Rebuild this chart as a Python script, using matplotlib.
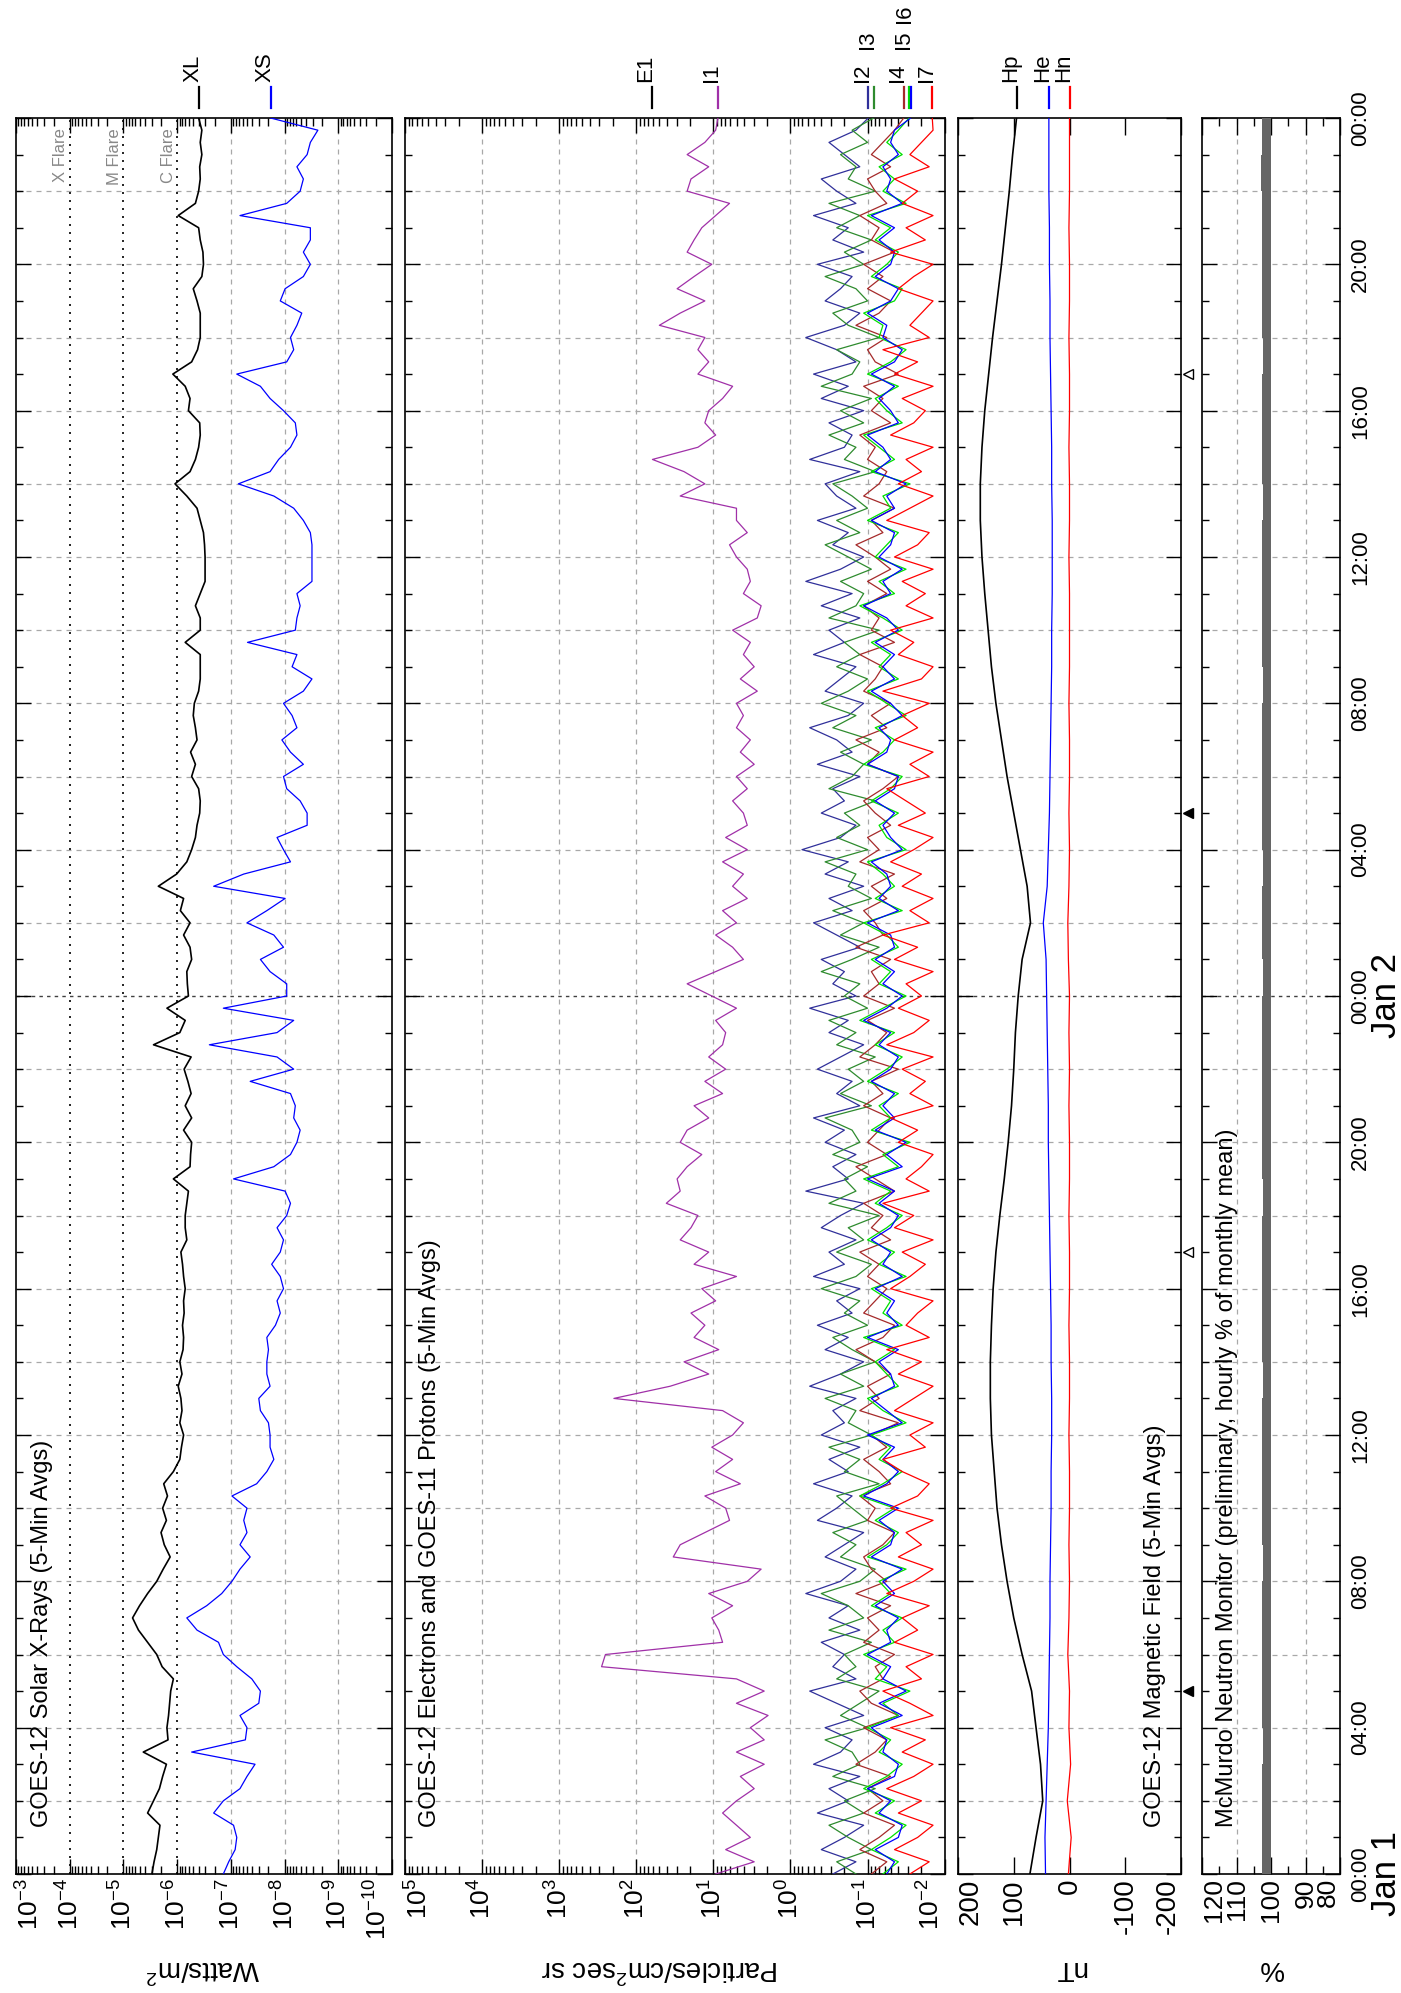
import numpy as np
import matplotlib
matplotlib.use("Agg")
import matplotlib.pyplot as plt
from matplotlib.lines import Line2D
from matplotlib.ticker import FixedLocator, LogLocator, NullFormatter
from matplotlib.transforms import blended_transform_factory, offset_copy

plt.rcParams['font.family'] = ['Liberation Sans', 'DejaVu Sans']
plt.rcParams['mathtext.fontset'] = 'custom'
plt.rcParams['mathtext.rm'] = 'Liberation Sans'
plt.rcParams['mathtext.it'] = 'Liberation Sans:italic'
plt.rcParams['mathtext.bf'] = 'Liberation Sans:bold'

# time grids, hours after 00:00 Jan 1
t_20min = np.arange(145) / 3.0
t_hour = np.arange(49)

# GOES-12 x-rays, log10(W/m^2)
xl_log = [-5.53, -5.57, -5.62, -5.65, -5.68, -5.45, -5.56, -5.67, -5.73, -5.80,
          -5.37, -5.83, -5.81, -5.84, -5.86, -5.88, -5.93, -5.72, -5.62, -5.45,
          -5.28, -5.17, -5.30, -5.45, -5.62, -5.74, -5.87, -5.76, -5.70, -5.80,
          -5.73, -5.82, -5.75, -5.93, -6.05, -6.08, -6.12, -6.05, -6.09, -6.07,
          -6.02, -6.09, -6.05, -6.11, -6.12, -6.10, -6.13, -6.12, -6.15, -6.12,
          -6.10, -6.07, -6.18, -6.15, -6.15, -6.18, -6.21, -5.93, -6.24, -6.25,
          -6.27, -6.12, -6.27, -6.15, -6.26, -6.20, -6.13, -6.26, -5.56, -6.05,
          -6.15, -5.81, -6.21, -6.19, -6.18, -6.27, -6.24, -6.12, -6.24, -6.06,
          -6.12, -5.65, -5.99, -6.18, -6.27, -6.34, -6.37, -6.42, -6.43, -6.40,
          -6.27, -6.34, -6.25, -6.37, -6.34, -6.30, -6.32, -6.40, -6.43, -6.43,
          -6.43, -6.15, -6.43, -6.43, -6.34, -6.43, -6.52, -6.52, -6.52, -6.51,
          -6.49, -6.43, -6.37, -6.18, -5.96, -6.24, -6.34, -6.40, -6.43, -6.42,
          -6.21, -6.24, -6.15, -5.92, -6.27, -6.38, -6.43, -6.43, -6.43, -6.37,
          -6.30, -6.46, -6.49, -6.48, -6.43, -6.40, -6.02, -6.34, -6.40, -6.43,
          -6.42, -6.46, -6.43, -6.46, -6.40]
xs_log = [-6.86, -6.96, -7.08, -7.11, -7.05, -6.68, -6.86, -7.17, -7.30, -7.45,
          -6.27, -7.27, -7.30, -7.17, -7.52, -7.55, -7.39, -7.11, -6.86, -6.77,
          -6.37, -6.18, -6.55, -6.83, -7.02, -7.17, -7.36, -7.17, -7.30, -7.24,
          -7.30, -7.02, -7.48, -7.67, -7.80, -7.73, -7.73, -7.70, -7.55, -7.52,
          -7.73, -7.67, -7.67, -7.70, -7.67, -7.83, -7.92, -7.86, -7.98, -7.92,
          -7.76, -7.92, -7.98, -7.86, -8.04, -8.11, -8.01, -7.05, -7.80, -8.11,
          -8.23, -8.29, -8.17, -8.20, -8.11, -7.36, -8.17, -7.86, -6.60, -7.86,
          -8.17, -6.86, -8.04, -8.04, -7.73, -7.55, -7.98, -7.80, -7.30, -7.67,
          -8.01, -6.68, -7.24, -8.11, -7.98, -7.86, -8.42, -8.42, -8.29, -8.04,
          -7.98, -8.35, -8.11, -7.95, -8.23, -8.14, -7.98, -8.35, -8.51, -8.14,
          -8.23, -7.31, -8.20, -8.23, -8.29, -8.23, -8.51, -8.51, -8.51, -8.51,
          -8.48, -8.35, -8.17, -7.80, -7.14, -7.73, -7.89, -8.11, -8.23, -8.20,
          -7.98, -7.73, -7.55, -7.11, -8.04, -8.17, -8.11, -8.23, -8.32, -7.92,
          -8.01, -8.35, -8.48, -8.35, -8.48, -8.48, -7.17, -8.04, -8.29, -8.35,
          -8.23, -8.42, -8.48, -8.62, -7.74]

# electrons / protons, log10(particles/cm2 sec sr); E1 has no data in this window
e1_log = []
i1_log = [0.97, 0.47, 0.84, 0.52, 0.70, 0.88, 0.70, 0.47, 0.65, 0.34,
          0.70, 0.34, 0.52, 0.29, 0.70, 0.34, 0.70, 2.45, 2.40, 0.88,
          0.93, 1.02, 0.75, 1.06, 0.56, 0.38, 1.52, 1.43, 1.11, 0.79,
          0.84, 1.11, 0.65, 0.97, 0.75, 1.02, 0.75, 0.61, 0.88, 2.29,
          1.56, 1.06, 1.38, 0.93, 1.25, 1.11, 1.29, 0.97, 1.15, 0.70,
          1.25, 1.06, 1.43, 1.29, 1.20, 1.61, 1.43, 1.47, 1.34, 1.15,
          1.43, 1.34, 1.06, 1.25, 0.88, 1.11, 0.84, 1.06, 0.88, 0.84,
          0.97, 0.70, 1.02, 1.34, 0.97, 0.61, 0.75, 0.97, 0.70, 0.88,
          0.56, 0.75, 0.61, 0.88, 0.56, 0.84, 0.56, 0.61, 0.75, 0.56,
          0.70, 0.47, 0.65, 0.52, 0.70, 0.61, 0.70, 0.43, 0.65, 0.47,
          0.61, 0.52, 0.75, 0.43, 0.38, 0.61, 0.52, 0.56, 0.70, 0.79,
          0.56, 0.70, 0.70, 1.43, 1.11, 1.38, 1.79, 1.20, 0.97, 1.11,
          1.06, 0.88, 0.75, 1.20, 1.06, 1.20, 1.11, 1.70, 1.43, 1.11,
          1.47, 1.25, 1.02, 1.34, 1.25, 1.15, 0.97, 0.79, 1.34, 1.29,
          1.06, 1.34, 1.11, 0.97, 0.94]
i2_log = [-0.55, -0.85, -0.40, -0.70, -0.95, -0.35, -0.75, -0.50, -0.90, -0.30,
          -0.65, -0.80, -0.45, -0.95, -0.60, -0.25, -0.85, -0.55, -0.70, -0.40,
          -0.90, -0.50, -0.75, -0.20, -0.65, -0.85, -0.45, -0.70, -0.95, -0.35,
          -0.60, -0.80, -0.30, -0.75, -0.50, -0.90, -0.40, -0.70, -0.55, -0.85,
          -0.25, -0.65, -0.95, -0.45, -0.75, -0.35, -0.80, -0.60, -0.90, -0.30,
          -0.70, -0.50, -0.85, -0.40, -0.65, -0.95, -0.20, -0.75, -0.55, -0.85,
          -0.45, -0.70, -0.30, -0.90, -0.60, -0.80, -0.35, -0.65, -0.95, -0.50,
          -0.75, -0.25, -0.85, -0.55, -0.70, -0.40, -0.90, -0.60, -0.30, -0.80,
          -0.50, -0.95, -0.45, -0.75, -0.15, -0.65, -0.85, -0.40, -0.70, -0.55,
          -0.90, -0.35, -0.80, -0.60, -0.25, -0.75, -0.95, -0.45, -0.65, -0.85,
          -0.30, -0.70, -0.50, -0.90, -0.40, -0.80, -0.20, -0.65, -0.95, -0.55,
          -0.75, -0.35, -0.85, -0.60, -0.45, -0.90, -0.25, -0.70, -0.80, -0.50,
          -0.95, -0.40, -0.75, -0.30, -0.85, -0.60, -0.20, -0.70, -0.90, -0.45,
          -0.65, -0.80, -0.35, -0.95, -0.55, -0.75, -0.30, -0.85, -0.60, -0.40,
          -0.90, -0.70, -0.50, -0.85, -1.01]
i3_log = [-0.85, -0.60, -1.05, -0.75, -0.50, -0.95, -0.70, -1.10, -0.55, -0.90,
          -0.80, -0.45, -1.00, -0.65, -0.90, -1.15, -0.60, -0.85, -0.70, -1.05,
          -0.50, -0.95, -0.75, -0.40, -0.90, -1.10, -0.65, -0.85, -0.55, -1.00,
          -0.80, -0.60, -1.15, -0.70, -0.90, -0.50, -1.05, -0.75, -0.85, -0.45,
          -0.95, -0.65, -1.10, -0.80, -0.55, -1.00, -0.70, -0.90, -0.40, -0.85,
          -1.05, -0.60, -0.95, -0.75, -1.15, -0.50, -0.85, -0.70, -1.00, -0.55,
          -0.90, -0.80, -0.45, -1.05, -0.65, -0.95, -0.75, -1.10, -0.60, -0.85,
          -0.50, -1.00, -0.70, -0.90, -0.40, -0.80, -1.15, -0.65, -0.95, -0.55,
          -1.05, -0.75, -0.85, -0.45, -1.00, -0.60, -0.90, -0.70, -1.10, -0.50,
          -0.80, -0.95, -0.65, -1.05, -0.55, -0.85, -0.40, -0.75, -1.00, -0.60,
          -0.90, -0.70, -1.15, -0.50, -0.85, -0.95, -0.65, -1.05, -0.75, -0.45,
          -0.90, -0.60, -1.00, -0.80, -0.55, -1.10, -0.70, -0.85, -0.50, -0.95,
          -0.65, -1.05, -0.40, -0.80, -0.90, -0.60, -1.15, -0.75, -0.55, -1.00,
          -0.85, -0.45, -0.95, -0.70, -1.05, -0.60, -0.90, -0.50, -1.10, -0.75,
          -0.85, -0.65, -1.00, -0.80, -1.08]
i4_log = [-1.05, -1.25, -0.90, -1.15, -1.35, -0.95, -1.20, -1.00, -1.30, -0.85,
          -1.10, -1.25, -0.95, -1.40, -1.05, -0.90, -1.20, -1.10, -1.35, -0.95,
          -1.15, -1.00, -1.30, -0.85, -1.25, -1.05, -0.95, -1.20, -1.35, -1.00,
          -1.10, -0.90, -1.30, -1.15, -0.95, -1.25, -1.05, -1.40, -0.90, -1.15,
          -1.00, -1.30, -1.10, -0.85, -1.20, -1.35, -0.95, -1.10, -1.25, -1.00,
          -1.15, -0.90, -1.30, -1.05, -1.20, -0.95, -1.35, -1.10, -0.85, -1.25,
          -1.00, -1.15, -1.30, -0.95, -1.20, -1.05, -1.40, -0.90, -1.10, -1.25,
          -1.00, -1.35, -0.95, -1.15, -1.05, -1.30, -0.85, -1.20, -1.10, -0.95,
          -1.25, -1.05, -1.35, -0.90, -1.15, -1.00, -1.30, -1.10, -0.95, -1.20,
          -1.40, -1.00, -1.15, -0.85, -1.25, -1.05, -1.30, -0.95, -1.10, -1.20,
          -0.90, -1.35, -1.05, -1.15, -0.95, -1.25, -1.00, -1.30, -1.10, -0.85,
          -1.20, -1.05, -1.35, -0.95, -1.15, -1.25, -1.00, -1.10, -0.90, -1.30,
          -1.05, -1.20, -0.95, -1.40, -1.10, -1.00, -1.25, -0.85, -1.15, -1.30,
          -1.00, -1.20, -0.95, -1.35, -1.05, -1.15, -0.90, -1.25, -1.10, -1.00,
          -1.30, -1.05, -1.20, -1.35, -1.47]
i5_log = [-1.20, -1.40, -1.05, -1.30, -1.50, -1.10, -1.35, -0.95, -1.25, -1.45,
          -1.15, -1.30, -1.00, -1.40, -1.20, -1.55, -1.10, -1.25, -0.95, -1.35,
          -1.20, -1.45, -1.05, -1.30, -1.15, -1.50, -1.00, -1.25, -1.40, -1.10,
          -1.35, -0.90, -1.20, -1.45, -1.15, -1.30, -1.05, -1.50, -1.20, -1.00,
          -1.40, -1.25, -1.10, -1.35, -0.95, -1.45, -1.20, -1.30, -1.05, -1.50,
          -1.15, -1.35, -1.00, -1.25, -1.45, -1.10, -1.30, -0.95, -1.40, -1.20,
          -1.55, -1.05, -1.30, -1.15, -1.40, -1.00, -1.25, -1.45, -1.10, -1.35,
          -0.90, -1.20, -1.50, -1.15, -1.30, -1.05, -1.40, -1.25, -0.95, -1.45,
          -1.10, -1.35, -1.20, -1.00, -1.50, -1.25, -1.15, -1.40, -1.05, -1.30,
          -1.45, -0.95, -1.20, -1.35, -1.10, -1.50, -1.25, -1.00, -1.40, -1.15,
          -1.30, -1.05, -1.45, -1.20, -0.90, -1.35, -1.15, -1.50, -1.10, -1.25,
          -1.40, -1.00, -1.30, -1.20, -1.55, -1.05, -1.35, -1.15, -0.95, -1.45,
          -1.25, -1.10, -1.40, -1.00, -1.30, -1.50, -1.15, -1.20, -0.95, -1.35,
          -1.45, -1.05, -1.25, -1.40, -1.10, -1.30, -1.00, -1.50, -1.20, -1.35,
          -1.15, -1.45, -1.25, -1.40, -1.54]
i6_log = [-1.25, -1.35, -1.10, -1.40, -1.45, -1.15, -1.30, -1.00, -1.35, -1.40,
          -1.20, -1.25, -1.05, -1.45, -1.15, -1.50, -1.20, -1.30, -1.00, -1.30,
          -1.25, -1.40, -1.10, -1.35, -1.20, -1.45, -1.05, -1.30, -1.35, -1.15,
          -1.40, -0.95, -1.25, -1.40, -1.20, -1.35, -1.00, -1.45, -1.25, -1.05,
          -1.35, -1.30, -1.15, -1.40, -1.00, -1.40, -1.25, -1.35, -1.10, -1.45,
          -1.20, -1.30, -1.05, -1.30, -1.40, -1.15, -1.35, -1.00, -1.45, -1.25,
          -1.50, -1.10, -1.35, -1.20, -1.35, -1.05, -1.30, -1.40, -1.15, -1.30,
          -0.95, -1.25, -1.45, -1.20, -1.35, -1.10, -1.35, -1.30, -1.00, -1.40,
          -1.15, -1.30, -1.25, -1.05, -1.45, -1.30, -1.20, -1.35, -1.10, -1.35,
          -1.40, -1.00, -1.25, -1.30, -1.15, -1.45, -1.30, -1.05, -1.35, -1.20,
          -1.35, -1.10, -1.40, -1.25, -0.95, -1.30, -1.20, -1.45, -1.15, -1.30,
          -1.35, -1.05, -1.35, -1.25, -1.50, -1.10, -1.30, -1.20, -1.00, -1.40,
          -1.30, -1.15, -1.35, -1.05, -1.35, -1.45, -1.20, -1.25, -1.00, -1.30,
          -1.40, -1.10, -1.30, -1.35, -1.15, -1.35, -1.05, -1.45, -1.25, -1.30,
          -1.20, -1.40, -1.30, -1.35, -1.56]
i7_log = [-1.55, -1.80, -1.35, -1.65, -1.85, -1.40, -1.70, -1.25, -1.60, -1.85,
          -1.45, -1.75, -1.30, -1.85, -1.55, -1.20, -1.70, -1.50, -1.85, -1.35,
          -1.65, -1.45, -1.80, -1.25, -1.60, -1.85, -1.40, -1.70, -1.50, -1.85,
          -1.30, -1.65, -1.80, -1.45, -1.20, -1.75, -1.55, -1.85, -1.35, -1.60,
          -1.85, -1.40, -1.70, -1.25, -1.80, -1.50, -1.65, -1.85, -1.30, -1.55,
          -1.75, -1.45, -1.85, -1.35, -1.60, -1.20, -1.80, -1.50, -1.70, -1.85,
          -1.40, -1.65, -1.30, -1.85, -1.55, -1.75, -1.45, -1.85, -1.25, -1.60,
          -1.80, -1.40, -1.70, -1.50, -1.85, -1.35, -1.65, -1.20, -1.80, -1.55,
          -1.85, -1.45, -1.70, -1.30, -1.60, -1.85, -1.40, -1.75, -1.50, -1.25,
          -1.80, -1.55, -1.85, -1.35, -1.65, -1.45, -1.80, -1.20, -1.70, -1.85,
          -1.40, -1.60, -1.30, -1.85, -1.50, -1.75, -1.45, -1.85, -1.35, -1.65,
          -1.80, -1.25, -1.55, -1.85, -1.40, -1.70, -1.50, -1.85, -1.30, -1.60,
          -1.75, -1.45, -1.85, -1.35, -1.65, -1.20, -1.80, -1.55, -1.70, -1.85,
          -1.40, -1.60, -1.85, -1.30, -1.75, -1.50, -1.85, -1.45, -1.65, -1.35,
          -1.80, -1.55, -1.70, -1.85, -1.84]

# magnetic field, nT (hourly)
hp_nt = [71, 60, 48, 52, 60, 68, 85, 100, 112, 122, 130, 135, 140, 142, 142, 140, 137,
         132, 125, 117, 110, 104, 100, 97, 92, 85, 70, 76, 88, 100, 112, 122, 132, 140,
         146, 152, 157, 160, 160, 157, 152, 145, 138, 130, 122, 115, 108, 102, 95]
he_nt = [43, 44, 42, 40, 38, 37, 36, 35, 35, 34, 33, 33, 32, 32, 33, 33, 34, 35, 36,
         37, 38, 38, 39, 40, 41, 42, 47, 40, 38, 36, 35, 34, 33, 32, 32, 31, 31, 31,
         32, 32, 33, 34, 35, 35, 36, 36, 37, 37, 37]
hn_nt = [2, -3, 4, -2, 1, 0, 3, 1, 0, 1, 0, 0, 1, 0, 0, 1, 0, 0, 1, 0, 0, 1, 0, 1, 0,
         2, 3, 1, 0, 1, 0, 0, 1, 0, 0, 0, 1, 0, 0, 1, 0, 0, 1, 0, 0, 1, 0, 0, 0]

# McMurdo neutron monitor, hourly % of monthly mean
neutron_pct = [102.5, 102.6, 102.5, 102.4, 102.5, 102.6, 102.5, 102.5, 102.4, 102.5,
               102.6, 102.5, 102.5, 102.4, 102.5, 102.5, 102.6, 102.5, 102.4, 102.5,
               102.5, 102.6, 102.7, 102.5, 102.4, 102.5, 102.5, 102.4, 102.5, 102.6,
               102.5, 102.5, 102.4, 102.5, 102.5, 102.6, 102.5, 102.4, 102.5, 102.5,
               102.5, 102.4, 102.6, 102.7, 102.5, 102.6, 102.9, 102.5]

# satellite local midnight / noon markers (hours)
midnight_hours = [5, 29]
noon_hours = [17, 41]

xray_ticks = [1e-3, 1e-4, 1e-5, 1e-6, 1e-7, 1e-8, 1e-9, 1e-10]
xray_labels = ['$10^{-3}$', '$10^{-4}$', '$10^{-5}$', '$10^{-6}$', '$10^{-7}$',
               '$10^{-8}$', '$10^{-9}$', '$10^{-10}$']
flare_levels = [1e-4, 1e-5, 1e-6]
flare_names = ['X Flare', 'M Flare', 'C Flare']
part_ticks = [1e5, 1e4, 1e3, 1e2, 1e1, 1e0, 1e-1, 1e-2]
part_labels = ['$10^{5}$', '$10^{4}$', '$10^{3}$', '$10^{2}$', '$10^{1}$', '$10^{0}$',
               '$10^{-1}$', '$10^{-2}$']
mag_ticks = [200, 100, 0, -100, -200]
mag_labels = ['200', '100', '0', '-100', '-200']
neut_ticks = [120, 110, 100, 90, 80]
neut_labels = ['120', '110', '100', '90', '80']
time_ticks = list(range(0, 49, 4))
time_labels = ['00:00', '04:00', '08:00', '12:00', '16:00', '20:00', '00:00',
               '04:00', '08:00', '12:00', '16:00', '20:00', '00:00']
day_hours = [0, 24]
day_labels = ['Jan 1', 'Jan 2']

# ---------------------------------------------------------------------------
W, H = 1401, 1993
TOP, BOT = 118, 1874
GRID = '#a8a8a8'

fig = plt.figure(figsize=(W / 100, H / 100), dpi=100)


def px_axes(x0, x1):
    return fig.add_axes([x0 / W, 1 - BOT / H, (x1 - x0) / W, (BOT - TOP) / H])


def fig_xy(x, y):
    return x / W, 1 - y / H


def setup_time(ax):
    ax.set_ylim(0, 48)
    ax.yaxis.set_major_locator(FixedLocator(time_ticks))
    ax.yaxis.set_minor_locator(FixedLocator(list(range(0, 49))))
    ax.yaxis.set_major_formatter(NullFormatter())
    ax.tick_params(axis='y', which='major', direction='in', length=11, width=1,
                   left=True, right=True, labelleft=False)
    ax.tick_params(axis='y', which='minor', direction='in', length=5, width=1,
                   left=True, right=True)
    for h in range(2, 48, 2):
        if h == 24:
            ax.axhline(h, color='#404040', lw=1.0, ls=(0, (2.5, 3)), zorder=0.5)
        else:
            ax.axhline(h, color=GRID, lw=0.9, ls=(0, (4, 4)), zorder=0.5)
    for sp in ax.spines.values():
        sp.set_linewidth(1.2)


def setup_values(ax, lim, ticks, labels, minor=None, grid=(), log=False, major_len=11,
                 size=19):
    if log:
        ax.set_xscale('log')
    ax.set_xlim(*lim)
    ax.set_xticks(ticks)
    ax.set_xticklabels(labels, rotation=90, fontsize=size)
    if minor is not None:
        ax.xaxis.set_minor_locator(minor)
    ax.xaxis.set_minor_formatter(NullFormatter())
    ax.tick_params(axis='x', which='major', direction='in', length=major_len, width=1,
                   top=True, bottom=True, pad=3)
    ax.tick_params(axis='x', which='minor', direction='in', length=5.5, width=1,
                   top=True, bottom=True)
    labs = ax.get_xticklabels()
    labs[0].set_ha('left')
    labs[-1].set_ha('right')
    for g in grid:
        ax.axvline(g, color=GRID, lw=0.9, ls=(0, (4, 4)), zorder=0.5)


LEVEL_Y = [82, 49, 23]


def legend_mark(ax, xval, name, color, level=0):
    tr = blended_transform_factory(ax.transData, fig.transFigure)
    fig.add_artist(Line2D([xval, xval], [1 - 108 / H, 1 - 87 / H], transform=tr,
                          color=color, lw=1.6))
    ax.text(xval, 1 - LEVEL_Y[level] / H, name, rotation=90, ha='center', va='bottom',
            fontsize=16, transform=offset_copy(tr, fig=fig, x=-4.3, units='points'))


ax_x = px_axes(16, 392)
ax_p = px_axes(405, 944.6)
ax_m = px_axes(958, 1181)
ax_n = px_axes(1202, 1340)
for ax in (ax_x, ax_p, ax_m, ax_n):
    setup_time(ax)

# --- x-ray panel
setup_values(ax_x, (1e-3, 1e-10), xray_ticks, xray_labels, log=True,
             minor=LogLocator(base=10, subs=np.arange(2, 10), numticks=40),
             grid=[1e-7, 1e-8, 1e-9])
tr_flare = blended_transform_factory(ax_x.transData, fig.transFigure)
for lev, nm in zip(flare_levels, flare_names):
    ax_x.axvline(lev, color='black', lw=1.2, ls=(0, (1.2, 3.6)), zorder=0.6)
    ax_x.text(lev, 1 - 128 / H, nm, rotation=90, ha='right', va='top', fontsize=12,
              color='#888888', transform=offset_copy(tr_flare, fig=fig, x=-1, units='points'))
xl = 10 ** np.array(xl_log)
xs = 10 ** np.array(xs_log)
ax_x.plot(xl, t_20min, color='black', lw=1.2, zorder=3)
ax_x.plot(xs, t_20min, color='#0000ff', lw=0.9, zorder=3)
legend_mark(ax_x, xl[-1], 'XL', 'black')
legend_mark(ax_x, xs[-1], 'XS', '#0000ff')

# --- particle panel
setup_values(ax_p, (1e5, 1e-2), part_ticks, part_labels, log=True,
             minor=LogLocator(base=10, subs=np.arange(2, 10), numticks=40),
             grid=[1e4, 1e3, 1e2, 1e1, 1e0, 1e-1])
part_series = [
    ('I1', i1_log, '#a030a8', 0),
    ('I2', i2_log, '#30309a', 0),
    ('I3', i3_log, '#2e8b2e', 1),
    ('I4', i4_log, '#a52a2a', 0),
    ('I5', i5_log, '#00e000', 1),
    ('I6', i6_log, '#0000ff', 2),
    ('I7', i7_log, '#ff0000', 0),
]
legend_mark(ax_p, 10 ** 1.8, 'E1', 'black')
for name, vals, col, lev in part_series:
    v = 10 ** np.array(vals)
    ax_p.plot(v, t_20min, color=col, lw=0.9, zorder=3)
    legend_mark(ax_p, v[-1], name, col, lev)

# --- magnetic field panel
setup_values(ax_m, (200, -200), mag_ticks, mag_labels, major_len=12, size=20)
for name, vals, col, lw in (('Hp', hp_nt, 'black', 1.2), ('He', he_nt, '#0000ff', 0.9),
                            ('Hn', hn_nt, '#ff0000', 0.9)):
    ax_m.plot(vals, t_hour, color=col, lw=lw, zorder=3)
    legend_mark(ax_m, vals[-1], name, col)
tr_tri = blended_transform_factory(ax_m.transAxes, ax_m.transData)
ax_m.plot([1.031] * len(midnight_hours), midnight_hours, ls='none', marker='<', ms=7,
          color='black', transform=tr_tri, clip_on=False)
ax_m.plot([1.031] * len(noon_hours), noon_hours, ls='none', marker='<', ms=7,
          mfc='white', mec='black', mew=1.0, transform=tr_tri, clip_on=False)
ax_m.set_ylim(0, 48)

# --- neutron monitor panel
setup_values(ax_n, (120, 80), neut_ticks, neut_labels, major_len=12, size=19,
             minor=FixedLocator([115, 105, 95, 85]), grid=[110, 90])
ax_n.barh(t_hour[:-1] + 0.5, np.array(neutron_pct) - 100, left=100, height=1.0,
          color='#666666', lw=0, zorder=3)
ax_n.set_ylim(0, 48)
ax_n.set_yticks(time_ticks)
ax_n.set_yticklabels(time_labels, rotation=90, va='center', fontsize=16)
ax_n.tick_params(axis='y', which='major', labelright=True, labelleft=False, pad=7.4)

for h, lab in zip(day_hours, day_labels):
    fig.text(1386 / W, 1 - (BOT - h * (BOT - TOP) / 48) / H, lab, rotation=90,
             ha='center', va='center', fontsize=25)

# panel titles
titles = [(42, 'GOES-12 Solar X-Rays (5-Min Avgs)'),
          (430, 'GOES-12 Electrons and GOES-11 Protons (5-Min Avgs)'),
          (1155, 'GOES-12 Magnetic Field (5-Min Avgs)'),
          (1227, 'McMurdo Neutron Monitor (preliminary, hourly % of monthly mean)')]
for x, txt in titles:
    fig.text(*fig_xy(x, 1827), txt, rotation=90, ha='center', va='bottom', fontsize=17)

# value-axis labels (upside down, as on the rotated original)
for x, txt in ((203, 'Watts/m$^2$'), (660, 'Particles/cm$^2$sec sr'),
               (1070, 'nT'), (1271, '%')):
    fig.text(*fig_xy(x, 1968), txt, rotation=180, ha='center', va='center', fontsize=20)

fig.savefig('out.png', dpi=100)
